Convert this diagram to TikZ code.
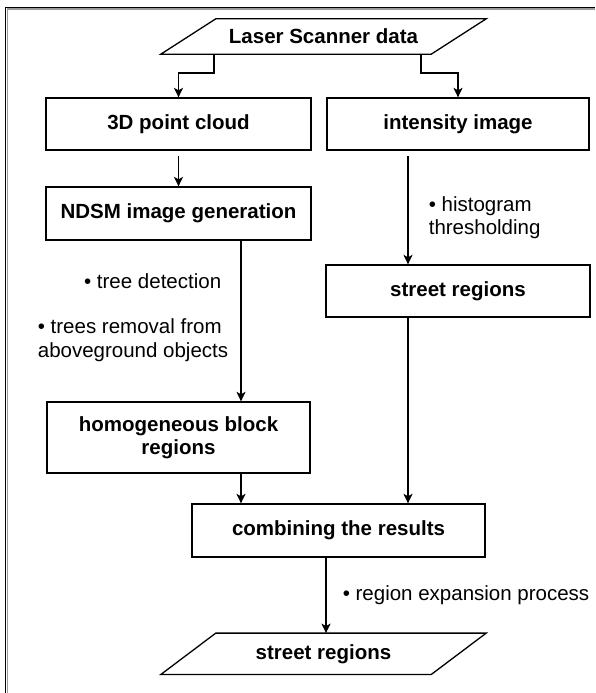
\documentclass[tikz,border=0pt]{standalone}
\usepackage{fontspec}
\setmainfont{Liberation Sans}
\usepackage{xcolor}
\definecolor{framegray}{HTML}{9A9A9A}
\usetikzlibrary{arrows.meta, positioning, calc}
\newcommand{\flowfont}{\fontsize{20.5}{23.5}\selectfont}
\tikzset{
  procbox/.style={draw, line width=1.3pt, font=\flowfont\bfseries, align=center, inner sep=0pt},
  databox/.style={font=\flowfont\bfseries, inner sep=0pt, minimum width=270pt},
  flow/.style={line width=1.6pt, -{Stealth[length=9.5pt, width=9pt, inset=2.5pt]}},
  steplabel/.style={font=\flowfont, inner sep=0pt, align=left}
}

\begin{document}
\begin{tikzpicture}[x=1pt, y=-1pt]
  \useasboundingbox (0,0) rectangle (595,693);
  % frame (left and top only)
  \draw[framegray, line width=1.4pt] (7.3,693) -- (7.3,9.0) -- (595,9.0);
  \draw[black, line width=1.1pt] (5.6,693) -- (5.6,7.3) -- (595,7.3);

  % input / output
  \node[databox, minimum height=35pt] (scan) at (323.5,36.5)  {Laser Scanner data};
  \node[databox, minimum height=41pt] (out)  at (323.5,653.8) {street regions};
  \foreach \n in {scan,out}
    \draw[line width=1.3pt] ([xshift=27.5pt]\n.north west) -- ([xshift=27.5pt]\n.north east)
      -- ([xshift=-27.5pt]\n.south east) -- ([xshift=-27.5pt]\n.south west) -- cycle;

  % boxes
  \node[procbox, minimum width=265pt, minimum height=52pt] (cloud)  at (178.5,124)   {3D point cloud};
  \node[procbox, minimum width=262pt, minimum height=52pt] (intens) at (458,124)     {intensity image};
  \node[procbox, minimum width=265pt, minimum height=53pt] (ndsm)   at (178.5,213.5) {NDSM image generation};
  \node[procbox, minimum width=264pt, minimum height=52pt] (street) at (458,291)     {street regions};
  \node[procbox, minimum width=263pt, minimum height=71pt] (homog)  at (178.5,437.5) {homogeneous block\\regions};
  \node[procbox, minimum width=293pt, minimum height=53pt] (comb)   at (338.5,530.5) {combining the results};

  % split of the scanner data
  \draw[flow] ([xshift=-109.5pt]scan.south) -- ++(0,18.5) -| (cloud.north);
  \draw[flow] ([xshift=97.5pt]scan.south) -- ++(0,18.5) -| (intens.north);

  % left branch
  \draw[flow] ([yshift=-5pt]cloud.south) -- (ndsm.north);
  \draw[flow] ([xshift=62.5pt]ndsm.south) --
    node[steplabel, pos=0.25, left=19pt] {• tree detection}
    node[steplabel, pos=0.62, left=12pt] {• trees removal from\\aboveground objects}
    ([xshift=62.5pt]ndsm.south |- homog.north);
  \draw[flow] ([xshift=62.5pt]homog.south) -- ([xshift=62.5pt]homog.south |- comb.north);

  % right branch
  \draw[flow] ([xshift=-50pt, yshift=-5pt]intens.south) --
    node[steplabel, pos=0.57, right=20pt] {• histogram\\thresholding}
    ([xshift=-50pt]intens.south |- street.north);
  \draw[flow] ([xshift=-50pt]street.south) -- ([xshift=-50pt]street.south |- comb.north);

  % result
  \draw[flow] ([xshift=-12.5pt]comb.south) --
    node[steplabel, pos=0.5, right=16pt] {• region expansion process}
    ([xshift=-12.5pt]comb.south |- out.north);
\end{tikzpicture}
\end{document}
